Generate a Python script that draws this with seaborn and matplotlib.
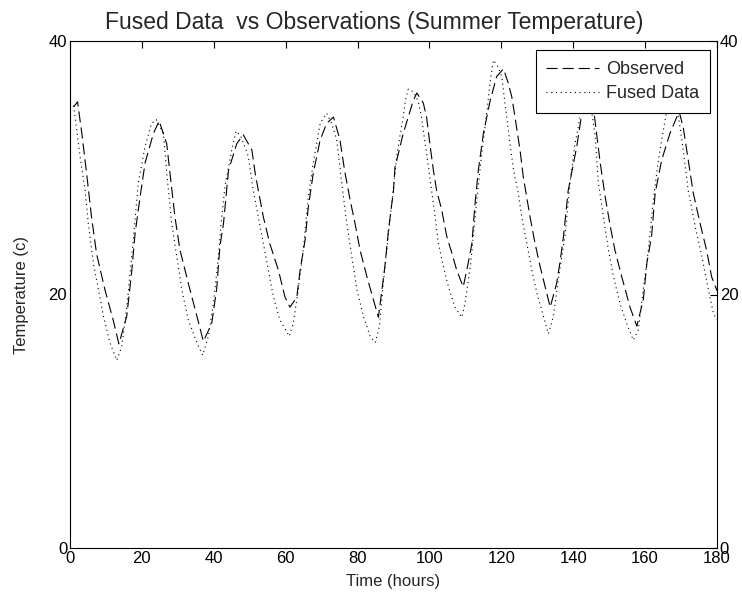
import matplotlib
matplotlib.use("Agg")
import matplotlib.pyplot as plt
import seaborn as sns
import pandas as pd

# ---- data ----
obs_t = [1.0, 2.1, 3.3, 4.6, 6.0, 7.4, 9.7, 12.0, 13.6, 15.8, 17.2, 18.1, 19.5, 20.9, 23.2, 24.8,
         26.9, 27.8, 29.2, 30.6, 32.9, 35.3, 37.1, 39.4, 40.8, 41.7, 42.7, 44.1, 46.4, 48.2,
         50.6, 51.5, 52.4, 53.8, 55.6, 58.0, 59.8, 61.2, 63.1, 64.0, 65.4, 66.3, 67.7, 69.6,
         71.4, 73.3, 75.1, 76.5, 77.9, 79.3, 80.7, 82.6, 84.4, 85.8, 87.6, 88.6, 90.0, 90.4,
         92.7, 94.1, 95.5, 96.5, 98.3, 99.2, 100.2, 101.1, 102.0, 103.4, 104.8, 106.2, 107.6,
         109.4, 110.8, 111.8, 112.7, 113.6, 115.0, 116.9, 118.7, 120.6, 121.9, 122.9, 123.8,
         125.2, 126.1, 128.0, 129.4, 130.8, 132.2, 133.6, 135.4, 136.3, 137.3, 138.6, 141.0,
         142.4, 144.3, 145.5, 146.5, 147.5, 148.9, 150.3, 151.6, 153.5, 155.8, 157.7, 159.5,
         160.5, 161.8, 162.8, 164.6, 166.9, 168.8, 169.5, 170.6, 172.0, 173.4, 175.3, 177.1,
         178.5, 180.0]
obs_v = [34.8, 35.2, 32.7, 29.6, 26.1, 23.2, 20.4, 18.0, 16.1, 18.3, 21.9, 24.8, 27.7, 30.4, 32.7, 33.7,
         31.9, 29.6, 26.1, 23.5, 20.9, 18.3, 16.3, 17.7, 20.4, 23.8, 25.6, 29.8, 31.9, 32.6,
         31.4, 29.6, 28.2, 26.1, 24.0, 21.9, 19.8, 19.0, 19.8, 21.9, 24.3, 26.9, 29.6, 32.2,
         33.5, 34.0, 32.2, 29.6, 27.5, 25.6, 23.5, 21.4, 19.6, 18.2, 22.2, 25.1, 28.2, 30.0,
         32.7, 34.0, 35.3, 35.9, 35.1, 34.0, 31.7, 29.8, 28.2, 26.7, 24.6, 23.3, 21.9,
         20.6, 22.5, 24.0, 27.2, 29.8, 32.7, 35.3, 37.2, 37.8, 36.7, 35.6, 34.0,
         31.4, 29.3, 26.1, 24.0, 22.2, 20.6, 19.0, 20.9, 22.5, 24.6, 28.2, 31.7,
         34.3, 36.0, 35.0, 32.7, 30.4, 27.7, 25.4, 23.5, 21.4, 19.0, 17.5, 19.6,
         22.5, 24.6, 28.0, 30.6, 32.7, 34.0, 34.4, 33.2, 30.6, 28.0, 25.6, 23.5,
         21.4, 20.3]

fus_t = [1.0, 2.8, 4.2, 5.1, 6.5, 7.9, 9.3, 11.1, 13.0, 14.4, 15.8, 17.6, 19.0, 20.9, 22.7, 24.0,
         26.0, 26.9, 28.3, 29.7, 31.1, 32.9, 35.3, 36.9, 38.5, 39.9, 41.3, 42.0, 43.1, 45.0,
         46.2, 47.5, 49.6, 51.0, 52.4, 53.8, 55.2, 56.6, 58.4, 61.0, 62.1, 63.5, 64.9, 66.3,
         67.7, 69.6, 71.4, 72.8, 74.2, 75.6, 77.0, 78.4, 79.8, 81.6, 83.5, 84.9, 86.1, 87.2,
         88.5, 90.0, 90.9, 91.8, 92.7, 93.3, 94.1, 95.5, 96.8, 97.8, 98.8, 99.7, 100.6, 101.6,
         102.5, 103.9, 105.3, 107.1, 109.0, 109.9, 111.5, 113.0, 114.5, 116.0, 117.0, 117.8,
         119.0, 120.1, 121.5, 122.4, 123.4, 124.7, 125.7, 127.1, 128.5, 129.9, 131.7, 133.1,
         134.5, 136.0, 137.7, 139.1, 140.5, 141.9, 143.3, 144.6, 146.1, 147.0, 148.4, 149.8,
         151.2, 153.0, 154.9, 156.7, 158.1, 159.5, 160.9, 162.3, 163.7, 165.1, 166.2, 167.5,
         169.3, 170.6, 172.0, 173.9, 175.8, 177.6, 179.0, 180.0]
fus_v = [34.9, 30.9, 28.2, 25.6, 22.5, 20.4, 18.3, 16.2, 14.8, 15.9, 19.0, 24.3, 28.8, 31.7, 33.5, 33.8,
         32.7, 29.6, 25.6, 23.0, 20.4, 18.0, 16.2, 15.2, 16.7, 19.3, 23.0, 25.5, 28.5, 31.4,
         32.9, 32.5, 30.9, 28.2, 26.1, 24.0, 21.9, 19.8, 18.0, 16.7, 17.7, 20.4, 23.5, 27.7,
         30.4, 33.5, 34.3, 33.5, 32.2, 28.8, 25.6, 23.0, 20.4, 18.3, 16.7, 16.2, 17.5, 21.0,
         24.5, 28.5, 30.9, 32.5, 34.0, 35.3, 36.2, 36.0, 35.3, 34.0, 31.9, 30.1, 28.2, 26.1,
         24.0, 22.2, 20.6, 19.0, 18.2, 19.3, 22.5, 27.0, 31.0, 34.5, 37.0, 38.5,
         38.0, 37.2, 34.0, 31.9, 29.8, 28.0, 26.1, 24.0, 21.9, 20.1, 18.3, 16.9,
         18.3, 21.5, 24.6, 28.8, 31.9, 34.0, 36.2, 35.5, 32.5, 28.8, 26.1, 23.5,
         21.4, 19.3, 17.7, 16.4, 17.2, 20.4, 23.5, 27.5, 30.6, 33.0, 34.8, 35.3,
         34.0, 31.4, 28.2, 25.4, 23.0, 20.4, 18.5, 18.0]

series_names = ["Observed", "Fused Data"]
x_ticks = [0, 20, 40, 60, 80, 100, 120, 140, 160, 180]
y_ticks = [0, 20, 40]

obs_df = pd.DataFrame({"t": obs_t, "v": obs_v})
fus_df = pd.DataFrame({"t": fus_t, "v": fus_v})

sns.set_style("white")
plt.rcParams["font.family"] = ["Liberation Sans", "DejaVu Sans"]
plt.rcParams["lines.scale_dashes"] = False

fig = plt.figure(figsize=(7.42, 6.04), dpi=100)
ax = fig.add_axes([70 / 742, 56 / 604, 647 / 742, 507 / 604])

sns.lineplot(data=obs_df, x="t", y="v", ax=ax, color="black", linewidth=0.8,
             linestyle=(0, (8, 3.6)), errorbar=None, label=series_names[0])
sns.lineplot(data=fus_df, x="t", y="v", ax=ax, color="black", linewidth=0.8,
             linestyle=(0, (0.8, 2.6)), errorbar=None, label=series_names[1])

ax.set_xlim(0, 180)
ax.set_ylim(0, 40)
ax.set_xticks(x_ticks)
ax.set_yticks(y_ticks)
ax.tick_params(direction="in", length=5, width=0.8, top=True, right=True,
               labelright=True, labelsize=12, pad=2, colors="black")
for s in ax.spines.values():
    s.set_visible(True)
    s.set_color("black")
    s.set_linewidth(0.8)

ax.set_xlabel("Time (hours)", fontsize=12, labelpad=6)
ax.set_ylabel("Temperature (c)", fontsize=12, labelpad=14)
ax.set_title("Fused Data  vs Observations (Summer Temperature)", fontsize=16.5, pad=9,
             x=(374.5 - 70) / 647)

leg = ax.legend(loc="upper right", bbox_to_anchor=(0.989, 0.982), borderaxespad=0,
                frameon=True, fancybox=False, edgecolor="black", framealpha=1,
                fontsize=13, handlelength=2.9, handletextpad=0.4, labelspacing=0.4,
                borderpad=0.6)
leg.get_frame().set_linewidth(0.8)

fig.savefig("out.png", dpi=100)
